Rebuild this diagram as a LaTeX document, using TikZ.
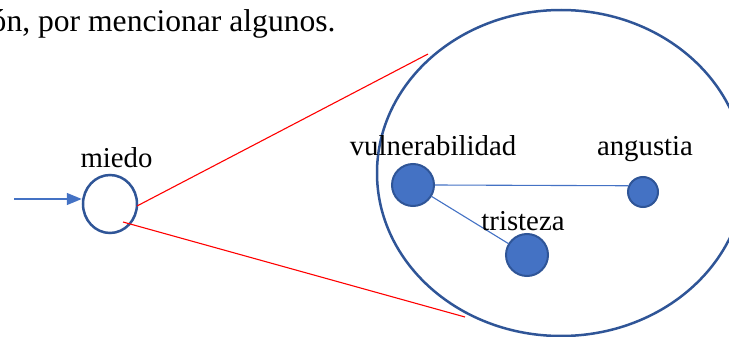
\documentclass[tikz,border=0pt]{standalone}
\usepackage{fontspec}
\setmainfont{Liberation Serif}
\usetikzlibrary{shapes.geometric,arrows.meta}
\definecolor{dkblue}{HTML}{2F5597}
\definecolor{accblue}{HTML}{4472C4}
\tikzset{
  lbl/.style={anchor=base,inner sep=0pt,font=\fontsize{14.4pt}{16pt}\selectfont},
  dot/.style={circle,draw=dkblue,fill=accblue,line width=1pt,inner sep=0pt,minimum size=#1},
  link/.style={draw=accblue,line width=0.55pt},
  zoomline/.style={draw=red,line width=0.55pt},
}
\begin{document}
\begin{tikzpicture}[x=0.5pt,y=-0.5pt]
\useasboundingbox (0,0) rectangle (729,337);
\clip (0,0) rectangle (729,337);
% top text
\node[anchor=base east,inner sep=0pt,font=\fontsize{15.8pt}{17pt}\selectfont] (top) at (336,32) {ón, por mencionar algunos.};
% miedo
\node[ellipse,draw=dkblue,line width=1.25pt,minimum width=27pt,minimum height=29pt,inner sep=0pt] (miedo) at (110,204) {};
\node[lbl] (lmiedo) at (116.5,167) {miedo};
\coordinate (s) at (14,199);
\draw[accblue,line width=0.7pt,-{Triangle[length=7.5pt,width=6pt]}] (s) -- (miedo.west |- s);
% big ellipse
\node[ellipse,draw=dkblue,line width=1.25pt,minimum width=184pt,minimum height=163pt,inner sep=0pt] (big) at (561,173) {};
% red zoom lines
\coordinate (m1) at (137,206);
\coordinate (m2) at (123,222);
\coordinate (e1) at (428,54);
\coordinate (e2) at (465,317);
\draw[zoomline] (m1) -- (e1);
\draw[zoomline] (m2) -- (e2);
% inner dots
\node[dot=21pt] (vul) at (413,185) {};
\node[dot=15pt] (ang) at (643,192) {};
\node[dot=21pt] (tri) at (527,255) {};
\draw[link] (vul.east) -- (ang.157);
\draw[link] (vul) -- (tri);
\node[lbl] (lvul) at (433,155) {vulnerabilidad};
\node[lbl] (lang) at (645,155) {angustia};
\node[lbl] (ltri) at (523,230) {tristeza};
\end{tikzpicture}
\end{document}
